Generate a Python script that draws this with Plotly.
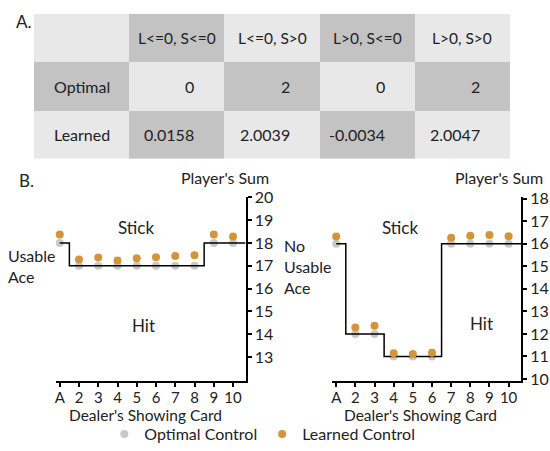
import plotly.graph_objects as go

# --- table data (panel A) ---
col_labels = ["L<=0, S<=0", "L<=0, S>0", "L>0, S<=0", "L>0, S>0"]
row_labels = ["Optimal", "Learned"]
optimal_vals = ["0", "2", "0", "2"]
learned_vals = ["0.0158", "2.0039", "-0.0034", "2.0047"]

# --- policy data (panel B) ---
cards = [1, 2, 3, 4, 5, 6, 7, 8, 9, 10]
card_labels = ["A", "2", "3", "4", "5", "6", "7", "8", "9", "10"]

usable_optimal = [18, 17, 17, 17, 17, 17, 17, 17, 18, 18]
usable_learned = [18.37, 17.28, 17.37, 17.24, 17.33, 17.38, 17.43, 17.47, 18.37, 18.29]

nousable_optimal = [16, 12, 12, 11, 11, 11, 16, 16, 16, 16]
nousable_learned = [16.33, 12.29, 12.36, 11.14, 11.11, 11.16, 16.27, 16.36, 16.39, 16.34]

DARK = "#c3c3c3"
LIGHT = "#e8e8e8"
GRAY = "#c8c8c8"
ORANGE = "#d4953a"
FONT = "Lato, sans-serif"
X_MAX = 10.65

fig = go.Figure()

# checkerboard table background
n_rows, n_cols = 3, 5
z = [[(r + c) % 2 for c in range(n_cols)] for r in range(n_rows)]
fig.add_trace(go.Heatmap(
    z=z, x=list(range(n_cols)), y=list(range(n_rows)),
    colorscale=[[0, LIGHT], [1, DARK]], showscale=False,
    hoverinfo="skip", xaxis="x3", yaxis="y3", showlegend=False,
))

def esc(s):
    return s.replace("<", "&lt;").replace(">", "&gt;")

annotations = []
for i, lab in enumerate(col_labels):
    annotations.append(dict(x=i + 1, y=0, xref="x3", yref="y3", text=esc(lab),
                            showarrow=False, font=dict(size=15.5)))
for j, lab in enumerate(row_labels):
    annotations.append(dict(x=0, y=j + 1, xref="x3", yref="y3", text=lab,
                            showarrow=False, font=dict(size=16)))
for j, vals in enumerate([optimal_vals, learned_vals]):
    for i, v in enumerate(vals):
        annotations.append(dict(x=i + 1.5, y=j + 1, xref="x3", yref="y3", text=v,
                                xanchor="right", xshift=-28,
                                showarrow=False, font=dict(size=16)))

# panel B traces
def add_panel(opt, learned, xa, ya, show):
    fig.add_trace(go.Scatter(
        x=cards, y=opt, mode="markers", name="Optimal Control",
        marker=dict(color=GRAY, size=8), xaxis=xa, yaxis=ya,
        showlegend=show, cliponaxis=False,
    ))
    fig.add_trace(go.Scatter(
        x=cards + [X_MAX], y=opt + [opt[-1]], mode="lines", line_shape="hvh",
        line=dict(color="black", width=1.5), xaxis=xa, yaxis=ya,
        showlegend=False, hoverinfo="skip",
    ))
    fig.add_trace(go.Scatter(
        x=cards, y=learned, mode="markers", name="Learned Control",
        marker=dict(color=ORANGE, size=8), xaxis=xa, yaxis=ya,
        showlegend=show, cliponaxis=False,
    ))

add_panel(usable_optimal, usable_learned, "x", "y", True)
add_panel(nousable_optimal, nousable_learned, "x2", "y2", False)

def paper(px, py, text, **kw):
    d = dict(x=px / 550, y=1 - py / 451, xref="paper", yref="paper", text=text,
             showarrow=False, xanchor="center", yanchor="middle",
             font=dict(size=16))
    d.update(kw)
    annotations.append(d)

paper(13, 13, "A.", xanchor="left", font=dict(size=17))
paper(16, 177, "B.", xanchor="left", font=dict(size=17))
paper(224, 174, "Player's Sum")
paper(499, 174, "Player's Sum")
paper(135, 226, "Stick", font=dict(size=17))
paper(143, 327, "Hit", font=dict(size=17))
paper(400, 226, "Stick", font=dict(size=17))
paper(481, 325, "Hit", font=dict(size=17))
paper(5, 266, "Usable<br>Ace", xanchor="left", align="left")
paper(282, 266, "No<br>Usable<br>Ace", xanchor="left", align="left")
paper(145, 420, "Dealer's Showing Card", font=dict(size=15.5))
paper(420, 420, "Dealer's Showing Card", font=dict(size=15.5))

xaxis_common = dict(
    range=[0.8, X_MAX], tickvals=cards, ticktext=card_labels,
    showline=True, linecolor="black", linewidth=2, ticks="outside",
    ticklen=4, tickwidth=1.5, tickcolor="black", showgrid=False, zeroline=False,
    tickfont=dict(size=15), ticklabelstandoff=-2,
)
yaxis_common = dict(
    side="right", showline=True, linecolor="black", linewidth=2,
    ticks="outside", ticklen=4, tickwidth=1.5, tickcolor="black",
    showgrid=False, zeroline=False, tickfont=dict(size=16),
)
Y_DOM = [1 - 385 / 451, 1 - 194 / 451]

fig.update_layout(
    width=550, height=451,
    margin=dict(l=0, r=0, t=0, b=0),
    paper_bgcolor="white", plot_bgcolor="white",
    font=dict(family=FONT, size=16, color="#222222"),
    xaxis=dict(domain=[55 / 550, 245 / 550], anchor="y", **xaxis_common),
    yaxis=dict(domain=Y_DOM, anchor="x", range=[11.94, 20.04],
               tickvals=list(range(13, 21)), **yaxis_common),
    xaxis2=dict(domain=[332 / 550, 521 / 550], anchor="y2", **xaxis_common),
    yaxis2=dict(domain=Y_DOM, anchor="x2", range=[9.9, 18.1],
                tickvals=list(range(10, 19)), **yaxis_common),
    xaxis3=dict(domain=[33 / 550, 510 / 550], anchor="y3", visible=False,
                range=[-0.5, 4.5]),
    yaxis3=dict(domain=[1 - 155 / 451, 1 - 5 / 451], anchor="x3", visible=False,
                range=[2.5, -0.5]),
    legend=dict(orientation="h", x=0.476, xanchor="center", y=1 - 440 / 451,
                yanchor="middle", font=dict(size=16), itemwidth=30,
                bgcolor="rgba(0,0,0,0)"),
    annotations=annotations,
)

fig.write_html("out.html", config={"displayModeBar": False},
               post_script="document.body.style.margin='0';")
